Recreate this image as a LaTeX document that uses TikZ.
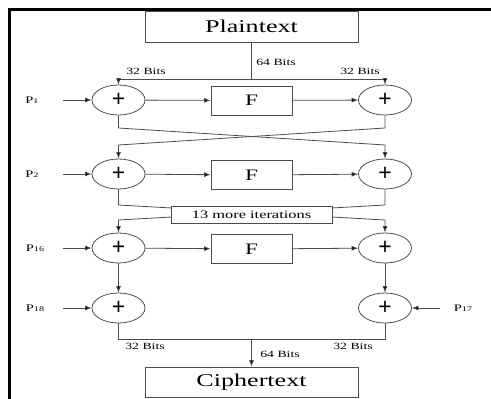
\documentclass[tikz,border=0pt]{standalone}
\usepackage{fontspec}
\setmainfont{Liberation Serif}
\newfontfamily\plusfont{Liberation Sans}
\usetikzlibrary{arrows.meta,shapes.geometric}

% horizontally widened serif text
\newcommand{\wide}[1]{\scalebox{1.45}[1]{#1}}
\newcommand{\keyname}[1]{\wide{P{\fontsize{7}{7}\selectfont #1}}}

\tikzset{
  wire/.style={draw=black!70, line width=0.8pt},
  arr/.style={wire, -{Latex[length=6.5pt,width=5pt,fill=black]}},
  blockbox/.style={draw=black!70, line width=0.8pt, fill=white, inner sep=0pt,
    font=\fontsize{18}{18}\selectfont},
  fbox/.style={draw=black!70, line width=0.8pt, fill=white, inner sep=0pt,
    minimum width=81pt, minimum height=29pt, font=\fontsize{16}{16}\selectfont},
  xorop/.style={ellipse, draw=black!70, line width=0.8pt, inner sep=0pt,
    minimum width=53pt, minimum height=30pt, font=\plusfont\fontsize{23}{23}\selectfont},
  bits/.style={inner sep=0pt, font=\fontsize{9.5}{9.5}\selectfont},
  keylabel/.style={inner sep=0pt, font=\fontsize{10}{10}\selectfont},
  frame/.style={line width=3.2pt, draw=black}
}

\begin{document}
\begin{tikzpicture}[x=1pt, y=-1pt]
\useasboundingbox (0,0) rectangle (491,399);

% page frame
\draw[frame] (9.2,399) -- (9.2,9.6) -- (491,9.6);

% input / output blocks
\node[blockbox, minimum width=213pt, minimum height=31pt] (plain) at (251.5,26.5) {\wide{Plaintext}};
\node[blockbox, minimum width=213pt, minimum height=30pt] (cipher) at (251.5,382) {\wide{Ciphertext}};

% round 1
\node[xorop] (L1) at (118.5,100) {+};
\node[xorop] (R1) at (385,100) {+};
\node[fbox] (F1) at (251.5,100.5) {\wide{F}};
% round 2
\node[xorop] (L2) at (118.5,174) {+};
\node[xorop] (R2) at (385,174) {+};
\node[fbox] (F2) at (251.5,175) {\wide{F}};
% round 16
\node[xorop] (L3) at (118.5,248) {+};
\node[xorop] (R3) at (385,248) {+};
\node[fbox] (F3) at (251.5,249) {\wide{F}};
% output whitening
\node[xorop] (L4) at (118.5,308) {+};
\node[xorop] (R4) at (385,308) {+};

% subkey labels
\node[keylabel] (k1)  at (32,100) {\keyname{1}};
\node[keylabel] (k2)  at (32,174) {\keyname{2}};
\node[keylabel] (k16) at (35,248) {\keyname{16}};
\node[keylabel] (k18) at (35,308) {\keyname{18}};
\node[keylabel] (k17) at (463,308) {\keyname{17}};
\coordinate (k1s)  at (63,100);
\coordinate (k2s)  at (63,174);
\coordinate (k16s) at (63,248);
\coordinate (k18s) at (63,308);
\coordinate (k17s) at (440,308);

% split of the plaintext
\coordinate (split) at (251.5,79);
\draw[wire] (plain) -- (split);
\draw[arr] (split) -| (L1);
\draw[arr] (split) -| (R1);
\node[bits] (b64a) at (276,62) {\wide{64 Bits}};
\node[bits] (b32a) at (146,71) {\wide{32 Bits}};
\node[bits] (b32b) at (360,71) {\wide{32 Bits}};

% round 1 data flow
\draw[arr] (k1s) -- (L1);
\draw[arr] (L1) -- (F1);
\draw[arr] (F1) -- (R1);
\coordinate (c1l) at (118.5,128);
\coordinate (c1r) at (385,128);
\coordinate (d1l) at (118.5,145);
\coordinate (d1r) at (385,145);
\draw[arr] (L1.south) -- (c1l) -- (d1r) -- (R2.north);
\draw[arr] (R1.south) -- (c1r) -- (d1l) -- (L2.north);

% round 2 data flow
\draw[arr] (k2s) -- (L2);
\draw[arr] (L2) -- (F2);
\draw[arr] (F2) -- (R2);
\coordinate (c2l) at (118.5,205);
\coordinate (c2r) at (385,205);
\coordinate (d2l) at (118.5,220);
\coordinate (d2r) at (385,220);
\draw[arr] (L2.south) -- (c2l) -- (d2r) -- (R3.north);
\draw[arr] (R2.south) -- (c2r) -- (d2l) -- (L3.north);
\node[draw=black!70, line width=0.8pt, fill=white, inner sep=0pt,
  minimum width=161pt, minimum height=17pt,
  font=\fontsize{11.3}{11.3}\selectfont] (more) at (251.5,214.5) {\wide{13 more iterations}};

% round 16 data flow
\draw[arr] (k16s) -- (L3);
\draw[arr] (L3) -- (F3);
\draw[arr] (F3) -- (R3);
\draw[arr] (L3) -- (L4);
\draw[arr] (R3) -- (R4);

% output whitening and recombination
\draw[arr] (k18s) -- (L4);
\draw[arr] (k17s) -- (R4);
\coordinate (jl) at (118.5,339);
\coordinate (jr) at (385,339);
\coordinate (join) at (251.5,339);
\draw[wire] (L4.south) -- (jl) -- (jr) -- (R4.south);
\draw[arr] (join) -- (cipher);
\node[bits] (b32c) at (145,346) {\wide{32 Bits}};
\node[bits] (b32d) at (353,346) {\wide{32 Bits}};
\node[bits] (b64b) at (280,354) {\wide{64 Bits}};
\end{tikzpicture}
\end{document}
